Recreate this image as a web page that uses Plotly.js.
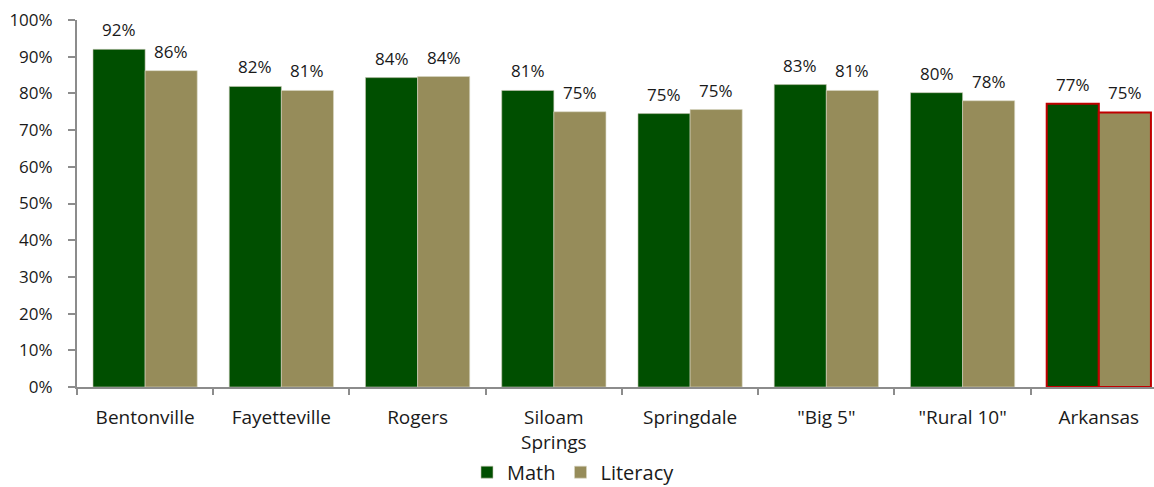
<!DOCTYPE html>
<html>
<head>
<meta charset="utf-8">
<script src="https://cdn.plot.ly/plotly-3.0.1.min.js"></script>
<style>html,body{margin:0;padding:0;background:#fff;}#chart{width:1154px;height:487px;}</style>
</head>
<body>
<div id="chart"></div>
<script>
const categories = ["Bentonville", "Fayetteville", "Rogers", "Siloam<br>Springs", "Springdale", "\"Big 5\"", "\"Rural 10\"", "Arkansas"];
const mathValues = [0.92, 0.819, 0.843, 0.808, 0.745, 0.824, 0.802, 0.772];
const literacyValues = [0.862, 0.808, 0.846, 0.75, 0.756, 0.808, 0.78, 0.748];
const mathLabels = ["92%", "82%", "84%", "81%", "75%", "83%", "80%", "77%"];
const literacyLabels = ["86%", "81%", "84%", "75%", "75%", "81%", "78%", "75%"];
const yTickValues = [0, 0.1, 0.2, 0.3, 0.4, 0.5, 0.6, 0.7, 0.8, 0.9, 1.0];
const yTickLabels = ["0%", "10%", "20%", "30%", "40%", "50%", "60%", "70%", "80%", "90%", "100%"];

const FONT = "'Open Sans', 'Noto Sans', sans-serif";
const TXT = "#1a1a1a";
const highlight = categories.map(c => c === "Arkansas");

const traces = [
  {
    type: "bar", name: "Math", x: categories, y: mathValues,
    marker: {color: "#004f00",
      line: {color: highlight.map(h => h ? "#c00000" : "#c8c8b4"), width: highlight.map(h => h ? 2 : 0.6)}},
    hoverinfo: "skip"
  },
  {
    type: "bar", name: "Literacy", x: categories, y: literacyValues,
    marker: {color: "#968c5a",
      line: {color: highlight.map(h => h ? "#c00000" : "#d8d6c4"), width: highlight.map(h => h ? 2 : 0.6)}},
    hoverinfo: "skip"
  }
];

// value labels above bars, anchored to data through the axes
const annotations = [];
categories.forEach((c, i) => {
  annotations.push({x: c, y: mathValues[i], xref: "x", yref: "y", text: mathLabels[i],
    showarrow: false, xanchor: "center", yanchor: "bottom", xshift: -26, yshift: 6,
    font: {family: FONT, size: 17, color: TXT}});
  annotations.push({x: c, y: literacyValues[i], xref: "x", yref: "y", text: literacyLabels[i],
    showarrow: false, xanchor: "center", yanchor: "bottom", xshift: 26, yshift: 6,
    font: {family: FONT, size: 17, color: TXT}});
});

const layout = {
  width: 1154, height: 487,
  margin: {l: 77, r: 0, t: 20, b: 100, pad: 0, autoexpand: false},
  paper_bgcolor: "#ffffff", plot_bgcolor: "#ffffff",
  font: {family: FONT, size: 17, color: TXT},
  barmode: "group", bargap: 0.235, bargroupgap: 0,
  showlegend: true,
  legend: {orientation: "h", x: 0.461, xanchor: "center", y: -0.232, yanchor: "middle",
    font: {family: FONT, size: 20, color: TXT}, traceorder: "normal"},
  annotations: annotations,
  xaxis: {
    type: "category", range: [-0.5, 7.405], tickson: "boundaries",
    ticks: "outside", ticklen: 6, tickcolor: "#8c8c8c", tickwidth: 2,
    ticklabelstandoff: 12,
    showline: true, linecolor: "#8c8c8c", linewidth: 2,
    showgrid: false, zeroline: false,
    tickfont: {family: FONT, size: 19, color: TXT}
  },
  yaxis: {
    range: [0, 1.0], tickvals: yTickValues, ticktext: yTickLabels,
    ticks: "outside", ticklen: 7, tickcolor: "#8c8c8c", tickwidth: 2,
    ticklabelstandoff: 12,
    showline: true, linecolor: "#8c8c8c", linewidth: 2,
    showgrid: false, zeroline: false,
    tickfont: {family: FONT, size: 17, color: TXT}
  }
};

Plotly.newPlot("chart", traces, layout, {displayModeBar: false, staticPlot: true});
</script>
</body>
</html>
